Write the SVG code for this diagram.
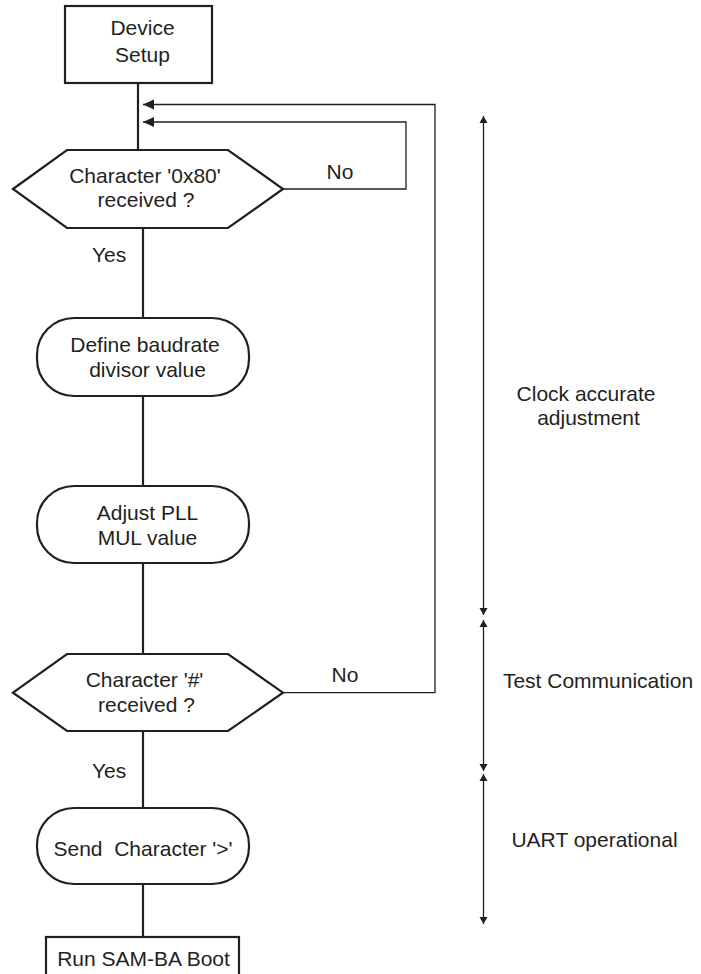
<svg xmlns="http://www.w3.org/2000/svg" width="701" height="974" viewBox="0 0 701 974">
<defs>
<style>
text{font-family:"Liberation Sans",Arial,Helvetica,sans-serif;font-size:21px;fill:#231f20;text-anchor:middle;white-space:pre}
.lbl{text-anchor:start}
.node{fill:#fff;stroke:#231f20;stroke-width:2.2}
.flow{fill:none;stroke:#231f20;stroke-width:2.2}
.loop{fill:none;stroke:#231f20;stroke-width:1.3}
.span{fill:none;stroke:#231f20;stroke-width:1.3}
</style>
<marker id="ah" viewBox="-12 -6 13 12" refX="0" refY="0" markerWidth="13" markerHeight="12" markerUnits="userSpaceOnUse" orient="auto">
<path d="M0,0 L-11,-5 L-11,5 z" fill="#231f20"/>
</marker>
<marker id="sa" viewBox="-9 -5 10 10" refX="0" refY="0" markerWidth="10" markerHeight="10" markerUnits="userSpaceOnUse" orient="auto-start-reverse">
<path d="M0,0 L-7,-4 L-7,4 z" fill="#231f20"/>
</marker>
</defs>
<rect width="701" height="974" fill="#fff"/>
<g id="connectors">
<line class="flow" x1="138" y1="83" x2="138" y2="150"/>
<line class="flow" x1="143" y1="228" x2="143" y2="318"/>
<line class="flow" x1="143" y1="396" x2="143" y2="486"/>
<line class="flow" x1="143" y1="563" x2="143" y2="654"/>
<line class="flow" x1="143" y1="731" x2="143" y2="808"/>
<line class="flow" x1="143" y1="884" x2="143" y2="937"/>
<path class="loop" d="M283,189 H406 V122 H143" marker-end="url(#ah)"/>
<path class="loop" d="M283,692.7 H435 V104.5 H143" marker-end="url(#ah)"/>
<text class="lbl" x="326.5" y="179">No</text>
<text class="lbl" x="331.5" y="682">No</text>
<text class="lbl" x="92" y="262">Yes</text>
<text class="lbl" x="92" y="778">Yes</text>
</g>
<g id="device-setup">
<rect class="node" x="65" y="6" width="147" height="77"/>
<text x="142.5" y="35">Device</text>
<text x="142.5" y="62">Setup</text>
</g>
<g id="char-0x80">
<polygon class="node" points="13,189 67,150 228,150 283,189 228,228 67,228"/>
<text x="145" y="183">Character '0x80'</text>
<text x="146" y="207">received ?</text>
</g>
<g id="define-baudrate">
<rect class="node" x="37" y="318" width="212" height="78" rx="37" ry="37"/>
<text x="145" y="352">Define baudrate</text>
<text x="147.5" y="377">divisor value</text>
</g>
<g id="adjust-pll">
<rect class="node" x="37" y="486" width="212" height="77" rx="37" ry="37"/>
<text x="147.5" y="520">Adjust PLL</text>
<text x="147.5" y="545">MUL value</text>
</g>
<g id="char-hash">
<polygon class="node" points="13,692.7 67,654 228,654 283,692.7 228,731 67,731"/>
<text x="144.5" y="687">Character '#'</text>
<text x="146.5" y="712">received ?</text>
</g>
<g id="send-char">
<rect class="node" x="37" y="808" width="212" height="76" rx="37" ry="37"/>
<text x="143" y="856">Send  Character '&gt;'</text>
</g>
<g id="run-samba">
<rect class="node" x="46" y="937" width="193" height="45"/>
<text x="143.5" y="966">Run SAM-BA Boot</text>
</g>
<g id="phases">
<line class="span" x1="483.5" y1="116" x2="483.5" y2="615" marker-start="url(#sa)" marker-end="url(#sa)"/>
<line class="span" x1="483.5" y1="620" x2="483.5" y2="771" marker-start="url(#sa)" marker-end="url(#sa)"/>
<line class="span" x1="483.5" y1="774" x2="483.5" y2="924" marker-start="url(#sa)" marker-end="url(#sa)"/>
<text x="586" y="401">Clock accurate</text>
<text x="588.5" y="425">adjustment</text>
<text x="598" y="688">Test Communication</text>
<text x="594.5" y="847">UART operational</text>
</g>
</svg>
